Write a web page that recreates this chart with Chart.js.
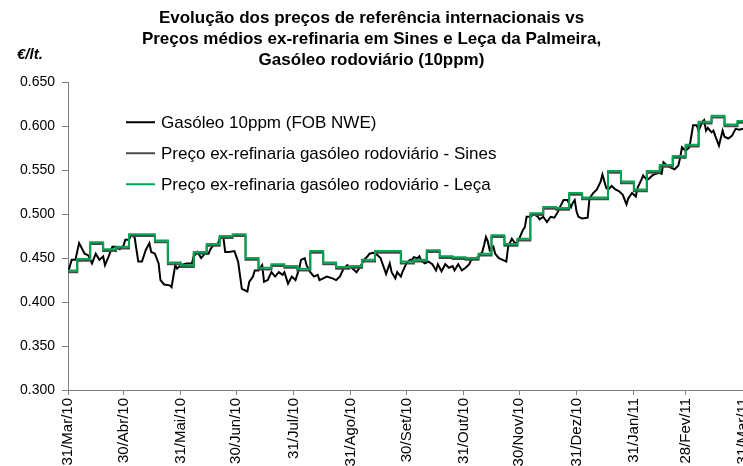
<!DOCTYPE html>
<html>
<head>
<meta charset="utf-8">
<script src="https://cdn.jsdelivr.net/npm/chart.js@4.4.0/dist/chart.umd.min.js"></script>
<style>
html, body { margin: 0; padding: 0; background: #fff; overflow: hidden; }
#wrap { width: 743px; height: 466px; }
</style>
</head>
<body>
<div id="wrap"><canvas id="chartCanvas"></canvas></div>
<script>
// x values are days after 31/Mar/10
const tickDays = [0, 30, 61, 91, 122, 153, 183, 214, 244, 275, 306, 334, 365];
const tickLabels = ['31/Mar/10', '30/Abr/10', '31/Mai/10', '30/Jun/10', '31/Jul/10', '31/Ago/10',
    '30/Set/10', '31/Out/10', '30/Nov/10', '31/Dez/10', '31/Jan/11', '28/Fev/11', '31/Mar/11'];

// Gasóleo 10ppm (FOB NWE), daily quotes
const fobDays = [
    0, 2, 4, 6, 9, 11, 13, 15, 17, 19,
    20, 22, 24, 26, 28, 30, 31, 33, 34, 36,
    38, 40, 42, 44, 45, 47, 49, 50, 52, 55,
    56, 58, 59, 61, 64, 67, 68, 70, 72, 74,
    76, 77, 79, 81, 82, 84, 85, 87, 90, 92,
    94, 97, 98, 100, 101, 103, 105, 106, 108, 110,
    112, 114, 116, 117, 119, 121, 123, 125, 126, 128,
    129, 131, 133, 135, 136, 138, 140, 143, 145, 147,
    149, 151, 153, 154, 156, 158, 160, 162, 163, 165,
    167, 169, 171, 172, 174, 175, 177, 178, 180, 181,
    183, 185, 186, 187, 189, 190, 191, 193, 195, 197,
    199, 200, 202, 204, 206, 208, 209, 211, 213, 215,
    217, 218, 220, 222, 224, 225, 226, 227, 228, 230,
    231, 233, 235, 237, 238, 240, 242, 244, 246, 247,
    248, 250, 252, 254, 255, 257, 259, 261, 263, 265,
    266, 268, 270, 272, 273, 274, 275, 276, 278, 281,
    282, 284, 286, 288, 289, 291, 292, 294, 296, 298,
    300, 302, 303, 305, 307, 308, 310, 311, 313, 314,
    316, 318, 320, 321, 322, 324, 326, 328, 330, 331,
    332, 334, 336, 337, 338, 340, 341, 343, 344, 345,
    346, 348, 349, 350, 352, 354, 355, 357, 359, 361,
    363, 365
];
const fobPrices = [
    0.434, 0.448, 0.448, 0.467, 0.455, 0.453, 0.444, 0.455, 0.448, 0.452,
    0.442, 0.452, 0.463, 0.463, 0.460, 0.464, 0.471, 0.471, 0.476, 0.474,
    0.446, 0.446, 0.459, 0.467, 0.457, 0.455, 0.444, 0.425, 0.420, 0.419,
    0.417, 0.442, 0.438, 0.442, 0.444, 0.444, 0.452, 0.457, 0.450, 0.455,
    0.455, 0.460, 0.466, 0.466, 0.472, 0.474, 0.457, 0.457, 0.458, 0.446,
    0.415, 0.412, 0.423, 0.429, 0.436, 0.436, 0.442, 0.423, 0.425, 0.434,
    0.429, 0.434, 0.431, 0.434, 0.421, 0.429, 0.425, 0.438, 0.448, 0.450,
    0.442, 0.434, 0.429, 0.431, 0.425, 0.427, 0.429, 0.427, 0.425, 0.429,
    0.438, 0.442, 0.440, 0.438, 0.434, 0.440, 0.448, 0.452, 0.455, 0.456,
    0.454, 0.450, 0.438, 0.432, 0.444, 0.434, 0.427, 0.434, 0.429, 0.435,
    0.444, 0.448, 0.448, 0.451, 0.450, 0.452, 0.447, 0.444, 0.446, 0.443,
    0.436, 0.443, 0.435, 0.443, 0.439, 0.441, 0.436, 0.443, 0.436, 0.439,
    0.443, 0.448, 0.450, 0.451, 0.457, 0.465, 0.474, 0.469, 0.459, 0.463,
    0.455, 0.450, 0.448, 0.446, 0.463, 0.472, 0.466, 0.472, 0.482, 0.485,
    0.497, 0.497, 0.500, 0.497, 0.494, 0.497, 0.491, 0.497, 0.496, 0.503,
    0.508, 0.516, 0.516, 0.508, 0.513, 0.516, 0.503, 0.497, 0.495, 0.496,
    0.518, 0.524, 0.528, 0.537, 0.545, 0.530, 0.528, 0.532, 0.528, 0.526,
    0.522, 0.511, 0.518, 0.524, 0.520, 0.530, 0.539, 0.544, 0.539, 0.540,
    0.544, 0.546, 0.547, 0.546, 0.559, 0.555, 0.553, 0.551, 0.555, 0.564,
    0.576, 0.572, 0.576, 0.588, 0.601, 0.601, 0.595, 0.605, 0.607, 0.595,
    0.598, 0.593, 0.595, 0.589, 0.578, 0.595, 0.588, 0.586, 0.589, 0.597,
    0.596, 0.597
];

// weekly ex-refinery prices (each value holds from its day to the next one)
const stepDays = [
    0, 5, 12, 19, 26, 33, 40, 47, 54, 61,
    68, 75, 82, 89, 96, 103, 110, 117, 124, 131,
    138, 145, 152, 159, 166, 173, 180, 187, 194, 201,
    208, 215, 222, 229, 236, 243, 250, 257, 264, 271,
    278, 285, 292, 299, 306, 313, 320, 327, 334, 341,
    348, 355, 362, 365
];
const sinesPrices = [
    0.434, 0.447, 0.466, 0.458, 0.461, 0.475, 0.475, 0.468, 0.443, 0.440,
    0.455, 0.464, 0.473, 0.475, 0.448, 0.437, 0.441, 0.439, 0.436, 0.456,
    0.443, 0.438, 0.439, 0.446, 0.456, 0.456, 0.444, 0.446, 0.457, 0.450,
    0.449, 0.448, 0.453, 0.474, 0.464, 0.470, 0.499, 0.506, 0.505, 0.522,
    0.517, 0.517, 0.547, 0.535, 0.526, 0.547, 0.554, 0.564, 0.577, 0.603,
    0.610, 0.600, 0.604, 0.604
];
const lecaPrices = [
    0.436, 0.449, 0.468, 0.460, 0.463, 0.477, 0.477, 0.470, 0.445, 0.442,
    0.457, 0.466, 0.475, 0.477, 0.450, 0.439, 0.443, 0.441, 0.438, 0.458,
    0.445, 0.440, 0.441, 0.448, 0.458, 0.458, 0.446, 0.448, 0.459, 0.452,
    0.451, 0.450, 0.455, 0.476, 0.466, 0.472, 0.501, 0.508, 0.507, 0.524,
    0.519, 0.519, 0.549, 0.537, 0.528, 0.549, 0.556, 0.566, 0.579, 0.605,
    0.612, 0.602, 0.606, 0.606
];

const FONT = '"Liberation Sans", Arial, sans-serif';
const axisColor = '#7f7f7f';

function toPoints(days, values) {
    return days.map((d, i) => ({ x: d, y: values[i] }));
}

const data = {
    datasets: [
        {
            label: 'Gasóleo 10ppm (FOB NWE)',
            data: toPoints(fobDays, fobPrices),
            borderColor: '#000000',
            backgroundColor: '#000000',
            borderWidth: 2,
            order: 2
        },
        {
            label: 'Preço ex-refinaria gasóleo rodoviário - Sines',
            data: toPoints(stepDays, sinesPrices),
            borderColor: '#4a4a4a',
            backgroundColor: '#4a4a4a',
            borderWidth: 2,
            stepped: 'before',
            order: 1
        },
        {
            label: 'Preço ex-refinaria gasóleo rodoviário - Leça',
            data: toPoints(stepDays, lecaPrices),
            borderColor: '#00a651',
            backgroundColor: '#00a651',
            borderWidth: 2,
            stepped: 'before',
            order: 0
        }
    ]
};

// unit label and in-plot legend
const notes = {
    id: 'notes',
    afterDraw(chart) {
        const { ctx, chartArea } = chart;
        ctx.save();
        ctx.fillStyle = '#000';
        ctx.textBaseline = 'middle';
        ctx.font = 'italic bold 15px ' + FONT;
        ctx.fillText('€/lt.', chartArea.left - 51, chartArea.top - 27);
        ctx.font = '17px ' + FONT;
        chart.data.datasets.forEach((ds, i) => {
            const x = chartArea.left + 58;
            const y = chartArea.top + 40 + i * 31;
            ctx.strokeStyle = ds.borderColor;
            ctx.lineWidth = ds.borderWidth;
            ctx.beginPath();
            ctx.moveTo(x, y);
            ctx.lineTo(x + 29, y);
            ctx.stroke();
            ctx.fillText(ds.label, x + 35, y + 1);
        });
        ctx.restore();
    }
};

const config = {
    type: 'line',
    data: data,
    plugins: [notes],
    options: {
        responsive: true,
        maintainAspectRatio: false,
        animation: false,
        devicePixelRatio: 1,
        layout: { padding: 0 },
        elements: { point: { radius: 0 }, line: { tension: 0 } },
        plugins: {
            legend: { display: false },
            tooltip: { enabled: false },
            title: {
                display: true,
                text: ['Evolução dos preços de referência internacionais vs',
                       'Preços médios ex-refinaria em Sines e Leça da Palmeira,',
                       'Gasóleo rodoviário (10ppm)'],
                color: '#000',
                font: { family: FONT, size: 17, weight: 'bold', lineHeight: 1.24 },
                padding: { top: 8, bottom: 11 }
            }
        },
        scales: {
            x: {
                type: 'linear',
                min: 0,
                max: 365,
                afterBuildTicks: (scale) => {
                    scale.ticks = tickDays.map(d => ({ value: d }));
                },
                afterFit: (scale) => {
                    scale.paddingRight = 0;
                    scale.height = 76;
                },
                ticks: {
                    autoSkip: false,
                    minRotation: 90,
                    maxRotation: 90,
                    padding: 3,
                    color: '#000',
                    font: { family: FONT, size: 15 },
                    callback: (value, index) => tickLabels[index]
                },
                grid: { drawOnChartArea: false, tickLength: 5, color: axisColor },
                border: { color: axisColor, width: 1 }
            },
            y: {
                min: 0.3,
                max: 0.65,
                afterFit: (scale) => {
                    scale.width = 68;
                },
                ticks: {
                    stepSize: 0.05,
                    padding: 7,
                    color: '#000',
                    font: { family: FONT, size: 14 },
                    callback: (value) => value.toFixed(3)
                },
                grid: { drawOnChartArea: false, tickLength: 6, color: axisColor },
                border: { color: axisColor, width: 1 }
            }
        }
    }
};

const myChart = new Chart(document.getElementById('chartCanvas'), config);
</script>
</body>
</html>
